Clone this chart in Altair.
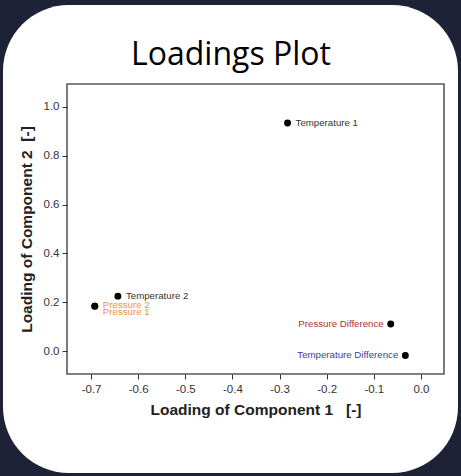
import altair as alt
import pandas as pd

# ---- data ----
names = ["Temperature 1", "Temperature 2", "Pressure 1", "Pressure 2",
         "Pressure Difference", "Temperature Difference"]
comp1 = [-0.283, -0.643, -0.692, -0.692, -0.064, -0.033]
comp2 = [0.934, 0.225, 0.184, 0.184, 0.111, -0.018]
groups = ["Temperature", "Temperature", "Pressure", "Pressure",
          "Pressure Difference", "Temperature Difference"]

x_ticks = [-0.7, -0.6, -0.5, -0.4, -0.3, -0.2, -0.1, 0.0]
y_ticks = [0.0, 0.2, 0.4, 0.6, 0.8, 1.0]

group_domain = ["Temperature", "Pressure", "Pressure Difference", "Temperature Difference"]
group_colors = ["#333333", "#f39238", "#a5352e", "#3c3f9e"]

title_text = "Loadings Plot"

df = pd.DataFrame({"name": names, "c1": comp1, "c2": comp2, "group": groups})

W, H = 377, 290
PAD_L, PAD_T = 67, 84

NBSP = "\u00a0"
label_expr = "replace(format(datum.value, '.1f'), '\u2212', '-')"

xenc = alt.X("c1:Q", scale=alt.Scale(domain=[-0.751, 0.049], nice=False, zero=False),
             axis=alt.Axis(values=x_ticks, labelExpr=label_expr,
                           title="Loading of Component 1" + NBSP * 3 + "[-]",
                           grid=False, domain=False, ticks=True, tickSize=5, tickColor="#333333",
                           labelFont="Liberation Sans", labelFontSize=11.5, labelColor="#333333",
                           labelPadding=4, titleFont="Liberation Sans", titleFontSize=15.5,
                           titleFontWeight="bold", titleColor="#222222", titlePadding=8, zindex=1))
yenc = alt.Y("c2:Q", scale=alt.Scale(domain=[-0.094, 1.094], nice=False, zero=False),
             axis=alt.Axis(values=y_ticks, labelExpr=label_expr,
                           title="Loading of Component 2" + NBSP * 2 + "[-]",
                           grid=False, domain=False, ticks=True, tickSize=5, tickColor="#333333",
                           labelFont="Liberation Sans", labelFontSize=11.5, labelColor="#333333",
                           labelPadding=3, titleFont="Liberation Sans", titleFontSize=15.5,
                           titleFontWeight="bold", titleColor="#222222", titlePadding=9, zindex=1))
color = alt.Color("group:N", scale=alt.Scale(domain=group_domain, range=group_colors), legend=None)

one = pd.DataFrame({"k": [0]})
card = alt.Chart(one).mark_rect(color="white", cornerRadius=66).encode(
    x=alt.value(3 - PAD_L), x2=alt.value(458 - PAD_L),
    y=alt.value(5 - PAD_T), y2=alt.value(473 - PAD_T))
frame = alt.Chart(one).mark_rect(fill="white", stroke="#5a5a5a", strokeWidth=1.6).encode(
    x=alt.value(0), x2=alt.value(W), y=alt.value(0), y2=alt.value(H))
title = alt.Chart(pd.DataFrame({"t": [title_text]})).mark_text(
    font="Open Sans", fontSize=32, color="black", align="center", baseline="alphabetic").encode(
    x=alt.value(231 - PAD_L), y=alt.value(65 - PAD_T), text="t:N")

base = alt.Chart(df)
points = base.mark_circle(size=48, color="black", opacity=1).encode(x=xenc, y=yenc)

lbl_font = dict(font="Liberation Sans", fontSize=9.7)
right_lbl = base.transform_filter(
    alt.FieldOneOfPredicate(field="name", oneOf=["Temperature 1", "Temperature 2"])
).mark_text(align="left", baseline="middle", dx=8, **lbl_font).encode(
    x="c1:Q", y="c2:Q", text="name:N", color=color)
p2_lbl = base.transform_filter(alt.datum.name == "Pressure 2").mark_text(
    align="left", baseline="middle", dx=8, dy=-1, **lbl_font).encode(
    x="c1:Q", y="c2:Q", text="name:N", color=color)
p1_lbl = base.transform_filter(alt.datum.name == "Pressure 1").mark_text(
    align="left", baseline="middle", dx=8, dy=6, **lbl_font).encode(
    x="c1:Q", y="c2:Q", text="name:N", color=color)
left_lbl = base.transform_filter(
    alt.FieldOneOfPredicate(field="name", oneOf=["Pressure Difference", "Temperature Difference"])
).mark_text(align="right", baseline="middle", dx=-7, **lbl_font).encode(
    x="c1:Q", y="c2:Q", text="name:N", color=color)

chart = alt.layer(card, frame, title, points, right_lbl, p2_lbl, p1_lbl, left_lbl).properties(
    width=W, height=H,
    background="#1d2236",
    padding={"left": PAD_L, "top": PAD_T, "right": 461 - PAD_L - W, "bottom": 476 - PAD_T - H},
    autosize=alt.AutoSizeParams(type="none"),
).configure_view(stroke=None)

chart.save("out.html", embed_options={"renderer": "svg", "actions": False})
